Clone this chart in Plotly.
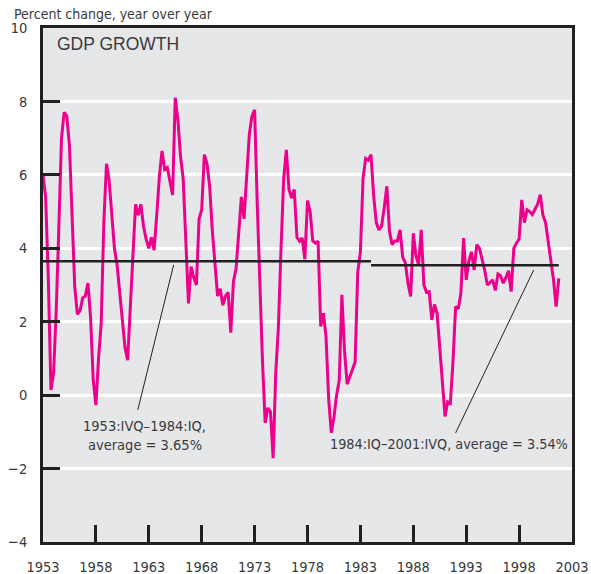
import plotly.graph_objects as go

# ---------------- data ----------------
start_year = 1953
gdp_growth = [
    6.0, 5.4, 3.2, 0.14, 0.6, 2.3, 4.6, 7.0, 7.7, 7.6,
    6.8, 4.6, 2.95, 2.2, 2.3, 2.65, 2.7, 3.05, 2.1, 0.4,
    -0.27, 1.0, 1.95, 4.7, 6.3, 5.85, 5.0, 4.0, 3.55, 2.8,
    1.92, 1.3, 0.95, 2.2, 3.8, 5.2, 4.9, 5.2, 4.6, 4.25,
    4.0, 4.3, 3.95, 4.9, 5.95, 6.65, 6.15, 6.2, 5.85, 5.45,
    8.1, 7.5, 6.5, 5.9, 4.2, 2.5, 3.5, 3.2, 3.0, 4.8,
    5.05, 6.55, 6.3, 5.7, 4.5, 3.5, 2.7, 2.9, 2.45, 2.7,
    2.8, 1.7, 3.1, 3.45, 4.55, 5.4, 4.8, 5.9, 7.1, 7.6,
    7.77, 5.2, 3.0, 0.9, -0.76, -0.35, -0.45, -1.72, 0.6, 1.85,
    4.0, 5.9, 6.68, 5.6, 5.37, 5.6, 4.3, 4.19, 4.28, 3.7,
    5.3, 5.0, 4.2, 4.14, 4.19, 1.87, 2.23, 1.6, -0.1, -1.03,
    -0.6, 0.0, 0.4, 2.73, 1.2, 0.3, 0.5, 0.69, 0.9, 3.35,
    3.9, 5.9, 6.45, 6.4, 6.55, 5.45, 4.7, 4.5, 4.6, 5.1,
    5.69, 4.45, 4.1, 4.2, 4.2, 4.5, 3.75, 3.6, 3.05, 2.69,
    4.41, 3.8, 3.55, 4.5, 3.0, 2.8, 2.82, 2.05, 2.47, 2.23,
    1.3, 0.25, -0.58, -0.18, -0.22, 0.9, 2.41, 2.35, 2.78, 4.28,
    3.14, 3.65, 3.9, 3.41, 4.1, 4.0, 3.7, 3.4, 3.0, 3.08,
    3.14, 2.85, 3.3, 3.25, 3.05, 3.2, 3.39, 2.82, 4.0, 4.14,
    4.25, 5.32, 4.7, 5.05, 5.0, 4.92, 5.05, 5.2, 5.46, 4.91,
    4.7, 4.15, 3.65, 3.15, 2.41, 3.18,
]
dates = [start_year + i / 4 for i in range(len(gdp_growth))]

avg_start = [1953.0, 1984.0]
avg_end = [1984.0, 2001.75]
avg_values = [3.65, 3.54]

x_ticks = [1953, 1958, 1963, 1968, 1973, 1978, 1983, 1988, 1993, 1998, 2003]
y_ticks = [-4, -2, 0, 2, 4, 6, 8, 10]

period_labels = ["1953:IVQ\u20131984:IQ,", "average = 3.65%",
                 "1984:IQ\u20132001:IVQ, average = 3.54%"]

# ---------------- styles ----------------
PINK = "#ec008c"
DARK = "#231f20"
TEXT = "#3a3a3c"
BG = "#e6e7e9"
NARROW = "Liberation Sans Narrow, Arial Narrow, DejaVu Sans Condensed, sans-serif"
REG = "Liberation Sans, Arial, sans-serif"

fig = go.Figure()
fig.add_trace(go.Scatter(x=dates, y=gdp_growth, mode="lines",
                         line=dict(color=PINK, width=3), hoverinfo="skip"))
for s, e, v in zip(avg_start, avg_end, avg_values):
    fig.add_trace(go.Scatter(x=[s, e], y=[v, v], mode="lines",
                             line=dict(color=DARK, width=2.5), hoverinfo="skip"))

# pointer lines
fig.add_shape(type="line", xref="x", yref="y", x0=1965.35, y0=3.55, x1=1961.96, y1=-0.4,
              line=dict(color=DARK, width=1))
fig.add_shape(type="line", xref="x", yref="y", x0=1999.38, y0=3.41, x1=1992.0, y1=-1.03,
              line=dict(color=DARK, width=1))

fig.add_annotation(x=1962.62, y=-0.84, xref="x", yref="y", text=period_labels[0],
                   showarrow=False, xanchor="center", yanchor="middle",
                   font=dict(family=NARROW, size=14.5, color=TEXT))
fig.add_annotation(x=1962.62, y=-1.35, xref="x", yref="y", text=period_labels[1],
                   showarrow=False, xanchor="center", yanchor="middle",
                   font=dict(family=NARROW, size=14.5, color=TEXT))
fig.add_annotation(x=1979.92, y=-1.33, xref="x", yref="y", text=period_labels[2],
                   showarrow=False, xanchor="left", yanchor="middle",
                   font=dict(family=NARROW, size=14.3, color=TEXT))

fig.add_annotation(x=(55 - 43) / 529, y=1, xref="paper", yref="paper", yshift=-16,
                   text="GDP GROWTH", showarrow=False, xanchor="left", yanchor="middle",
                   font=dict(family=REG, size=17.5, color=TEXT))
fig.add_annotation(x=0, y=1, xref="paper", yref="paper", xshift=-31, yshift=14,
                   text="Percent change, year over year", showarrow=False,
                   xanchor="left", yanchor="middle",
                   font=dict(family=NARROW, size=14, color=TEXT))

fig.update_layout(
    width=591, height=574,
    margin=dict(l=43, r=19, t=28, b=32),
    paper_bgcolor="white", plot_bgcolor=BG,
    showlegend=False,
)
fig.update_xaxes(range=[1953, 2003], tickvals=x_ticks, ticks="inside", ticklen=17,
                 tickwidth=3, tickcolor=DARK, showgrid=False, zeroline=False,
                 showline=True, linecolor=DARK, linewidth=2.5, mirror=True,
                 automargin=False,
                 tickfont=dict(family=NARROW, size=14.5, color=TEXT), ticklabelstandoff=10)
fig.update_yaxes(range=[-4, 10], tickvals=y_ticks, ticks="inside", ticklen=17,
                 tickwidth=3, tickcolor=DARK, showgrid=True, gridcolor="white",
                 gridwidth=2.5, zeroline=False, showline=True, linecolor=DARK,
                 linewidth=2.5, mirror=True, automargin=False,
                 tickfont=dict(family=NARROW, size=14.5, color=TEXT), ticklabelstandoff=10)

# remove the default page margin so the 591x574 figure fills the window exactly
fig.write_html("out.html", config={"displayModeBar": False},
               post_script="document.body.style.margin='0';document.body.style.overflow='hidden';")
